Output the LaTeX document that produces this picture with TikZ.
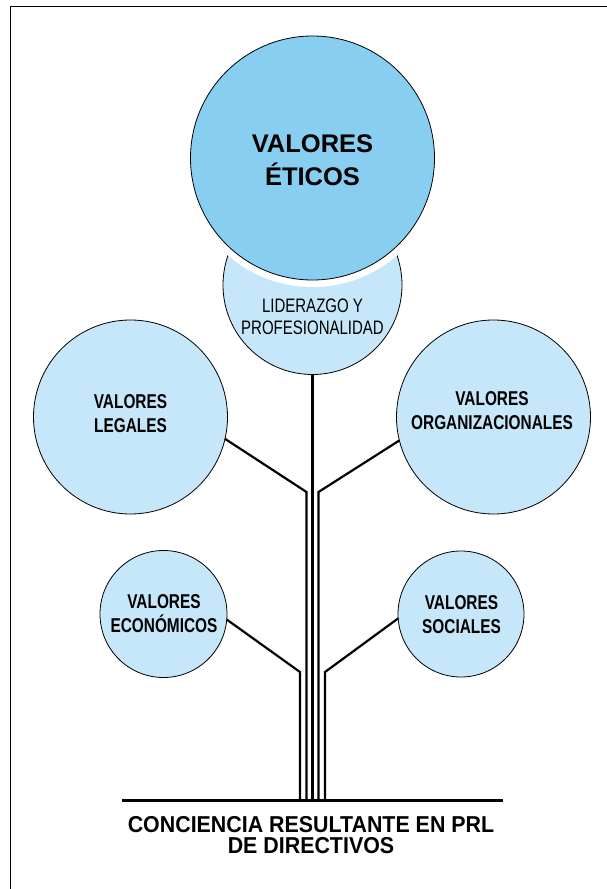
\documentclass[tikz,border=0pt]{standalone}
\usepackage{fontspec}
\setmainfont{Liberation Sans}
\newfontfamily\condfont[FakeStretch=0.77]{Liberation Sans}
\newfontfamily\semicondfont[FakeStretch=0.93]{Liberation Sans}
\definecolor{darkfill}{RGB}{135,206,241}
\definecolor{lightfill}{RGB}{197,231,249}
\tikzset{
  circ/.style={circle, draw=black, line width=0.8pt, inner sep=0pt, outer sep=0pt},
  lightcirc/.style={circ, fill=lightfill},
  condtext/.style={align=center, inner sep=0pt, font=\condfont\bfseries\fontsize{20}{24}\selectfont},
  lidtext/.style={align=center, inner sep=0pt, font=\condfont\fontsize{19.5}{21.5}\selectfont},
  bigtext/.style={align=center, inner sep=0pt, font=\bfseries\fontsize{25.5}{33}\selectfont},
  basetext/.style={align=center, inner sep=0pt, font=\semicondfont\bfseries\fontsize{23}{21}\selectfont},
  branch/.style={line width=2.2pt, line join=miter},
}
\begin{document}
\begin{tikzpicture}[x=1pt,y=-1pt]
\useasboundingbox (0,0) rectangle (607,889);
% frame
\draw[line width=0.9pt] (10,889) -- (10,6) -- (607,6);

% leadership circle
\node[lightcirc, minimum size=179pt] (lid) at (312.5,285) {};
% white halo and big circle
\node[circle, fill=white, inner sep=0pt, minimum size=258pt] (halo) at (312.5,158) {};
\node[circ, fill=darkfill, minimum size=244pt] (eti) at (312.5,158) {};

% side circles
\node[lightcirc, minimum size=194pt] (leg) at (130.5,417) {};
\node[lightcirc, minimum size=194pt] (org) at (493.5,417) {};
\node[lightcirc, minimum size=127pt] (eco) at (163.5,614) {};
\node[lightcirc, minimum size=126pt] (soc) at (461,614) {};

% texts
\node[bigtext] (etit) at (312.5,160) {VALORES\\ÉTICOS};
\node[lidtext] (lidt) at (312.5,317) {LIDERAZGO Y\\PROFESIONALIDAD};
\node[condtext] (legt) at (130.5,414) {VALORES\\LEGALES};
\node[condtext] (orgt) at (492,410.5) {VALORES\\ORGANIZACIONALES};
\node[condtext] (ecot) at (164,614) {VALORES\\ECONÓMICOS};
\node[condtext] (soct) at (461.5,614.5) {VALORES\\SOCIALES};

% baseline and caption
\coordinate (bl) at (122,800);
\coordinate (br) at (503,800);
\draw[line width=3pt] (bl) -- (br);
\node[basetext] (cap) at (311,835) {CONCIENCIA RESULTANTE EN PRL\\DE DIRECTIVOS};

% branches
\coordinate (ecoB) at (300,672);
\coordinate (ecoE) at (300,800);
\coordinate (legB) at (306.5,492);
\coordinate (legE) at (306.5,800);
\coordinate (lidE) at (312.5,800);
\coordinate (orgB) at (318.5,492);
\coordinate (orgE) at (318.5,800);
\coordinate (socB) at (325,672);
\coordinate (socE) at (325,800);

\draw[branch] (eco.-5) -- (ecoB) -- (ecoE);
\draw[branch] (leg.-13.5) -- (legB) -- (legE);
\draw[branch] (lid.south) -- (lidE);
\draw[branch] (org.-166.5) -- (orgB) -- (orgE);
\draw[branch] (soc.-176) -- (socB) -- (socE);
\end{tikzpicture}
\end{document}
